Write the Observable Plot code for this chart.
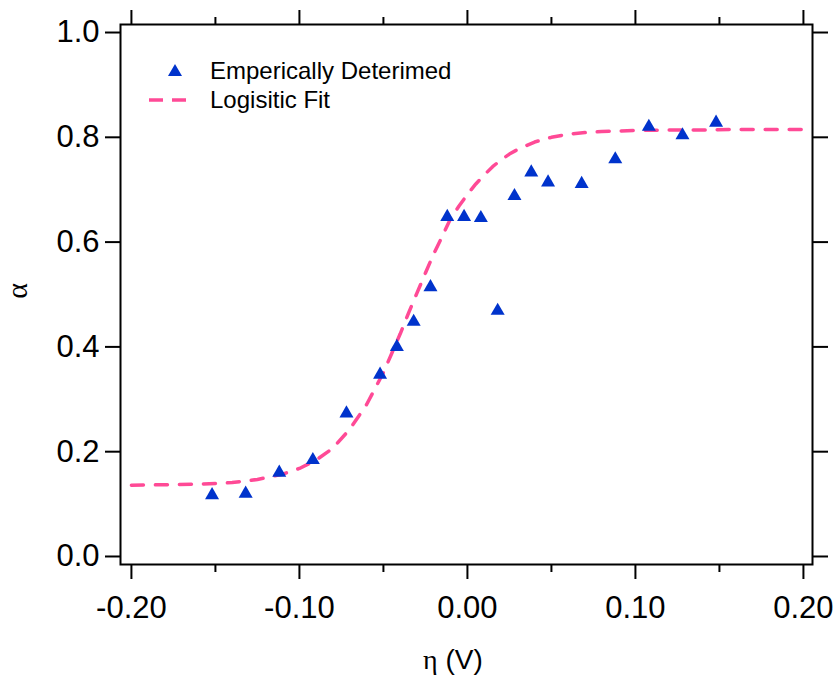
<!DOCTYPE html>
<html>
<head>
<meta charset="utf-8">
<script src="https://cdn.jsdelivr.net/npm/d3@7"></script>
<script src="https://cdn.jsdelivr.net/npm/@observablehq/plot@0.6"></script>
<style>
  html, body { margin: 0; padding: 0; background: #fff; }
  #chart svg { display: block; }
</style>
</head>
<body>
<div id="chart"></div>
<script>
// Empirically determined points
const etaPts = [-0.152, -0.132, -0.112, -0.092, -0.072, -0.052, -0.042, -0.032, -0.022, -0.012, -0.002, 0.008, 0.018, 0.028, 0.038, 0.048, 0.068, 0.088, 0.108, 0.128, 0.148];
const alphaPts = [0.117, 0.120, 0.160, 0.184, 0.273, 0.347, 0.400, 0.448, 0.514, 0.648, 0.648, 0.646, 0.469, 0.688, 0.733, 0.714, 0.711, 0.758, 0.820, 0.804, 0.828];

// Logistic fit curve
const etaFit = [-0.20, -0.18, -0.16, -0.14, -0.125, -0.11, -0.10, -0.09, -0.08, -0.07, -0.06, -0.05, -0.045, -0.04, -0.035, -0.03, -0.025, -0.02, -0.015, -0.01, -0.005, 0.00, 0.005, 0.01, 0.015, 0.02, 0.025, 0.03, 0.04, 0.05, 0.06, 0.07, 0.08, 0.09, 0.10, 0.12, 0.14, 0.16, 0.18, 0.20];
const alphaFit = [0.136, 0.137, 0.138, 0.141, 0.147, 0.157, 0.168, 0.184, 0.207, 0.243, 0.290, 0.351, 0.388, 0.425, 0.465, 0.503, 0.541, 0.578, 0.611, 0.645, 0.669, 0.691, 0.711, 0.728, 0.744, 0.757, 0.768, 0.777, 0.791, 0.800, 0.806, 0.809, 0.811, 0.812, 0.813, 0.814, 0.814, 0.815, 0.815, 0.815];

const xMajor = [-0.2, -0.1, 0, 0.1, 0.2];
const xMinor = [-0.15, -0.05, 0.05, 0.15];
const yMajor = [0, 0.2, 0.4, 0.6, 0.8, 1.0];

const legendLabels = ["Emperically Deterimed", "Logisitic Fit"];
const xTitle = ["η", " (V)"];
const yTitle = "α";

const points = etaPts.map((x, i) => ({x, y: alphaPts[i]}));
const fit = etaFit.map((x, i) => ({x, y: alphaFit[i]}));

const BLUE = "#0033cc";
const PINK = "#ff4a96";
const FONT = "'Liberation Sans', Arial, sans-serif";
const SERIF = "'Liberation Serif', 'DejaVu Serif', serif";
const W = 838, H = 680;
const mL = 120, mR = 26, mT = 24, mB = 116;
const blank = () => "";

const plot = Plot.plot({
  width: W,
  height: H,
  marginLeft: mL,
  marginRight: mR,
  marginTop: mT,
  marginBottom: mB,
  style: {fontFamily: FONT, background: "#fff", color: "#000"},
  x: {domain: [-0.2065, 0.2054]},
  y: {domain: [-0.0153, 1.0153]},
  marks: [
    Plot.axisX({anchor: "bottom", ticks: xMajor, tickSize: 15, tickPadding: 16, strokeWidth: 2,
      tickFormat: d => d.toFixed(2), fontSize: 31, label: null}),
    Plot.axisX({anchor: "bottom", ticks: xMinor, tickSize: 8, strokeWidth: 2, tickFormat: blank, label: null}),
    Plot.axisX({anchor: "top", ticks: xMajor, tickSize: 15, strokeWidth: 2, tickFormat: blank, label: null}),
    Plot.axisX({anchor: "top", ticks: xMinor, tickSize: 8, strokeWidth: 2, tickFormat: blank, label: null}),
    Plot.axisY({anchor: "left", ticks: yMajor, tickSize: 15, tickPadding: 6, strokeWidth: 2,
      tickFormat: d => d.toFixed(1), fontSize: 31, label: null}),
    Plot.axisY({anchor: "right", ticks: yMajor, tickSize: 15, strokeWidth: 2, tickFormat: blank, label: null}),
    Plot.frame({stroke: "#000", strokeWidth: 2}),
    Plot.line(fit, {x: "x", y: "y", stroke: PINK, strokeWidth: 3.5, strokeDasharray: "12,12"}),
    Plot.dot(points, {x: "x", y: "y", symbol: "triangle", r: 5.2, fill: BLUE, stroke: "none"})
  ]
});

document.getElementById("chart").appendChild(plot);

const svg = d3.select(plot);

// Legend
const lg = svg.append("g").attr("font-family", FONT).attr("font-size", 24).attr("text-anchor", "start");
lg.append("path")
  .attr("d", d3.symbol(d3.symbolTriangle, 5.2 * 5.2 * Math.PI)())
  .attr("transform", "translate(175,72)")
  .attr("fill", BLUE);
lg.append("text").attr("x", 210).attr("y", 79).attr("fill", "#000").text(legendLabels[0]);
lg.append("line")
  .attr("x1", 149).attr("x2", 187).attr("y1", 100).attr("y2", 100)
  .attr("stroke", PINK).attr("stroke-width", 3.5).attr("stroke-dasharray", "14,9");
lg.append("text").attr("x", 210).attr("y", 108).attr("fill", "#000").text(legendLabels[1]);

// Axis titles
const xt = svg.append("text")
  .attr("x", 453).attr("y", 669)
  .attr("text-anchor", "middle")
  .attr("font-family", FONT).attr("font-size", 28).attr("fill", "#000");
xt.append("tspan").attr("font-family", SERIF).text(xTitle[0]);
xt.append("tspan").text(xTitle[1]);

svg.append("text")
  .attr("transform", "translate(27,291) rotate(-90)")
  .attr("text-anchor", "middle")
  .attr("font-family", SERIF)
  .attr("font-size", 30).attr("fill", "#000")
  .text(yTitle);
</script>
</body>
</html>
